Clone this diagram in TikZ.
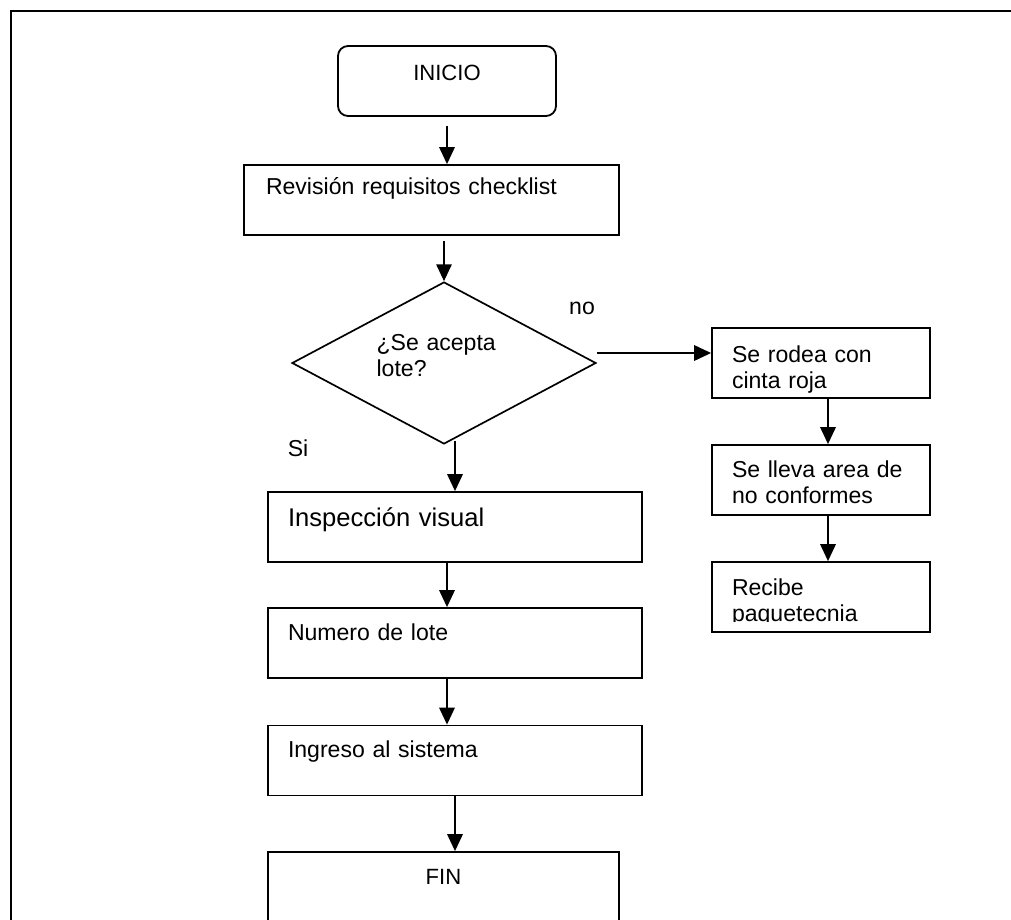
\documentclass[tikz,border=0pt]{standalone}
\usepackage{fontspec}
\setmainfont{Liberation Sans}
\usepackage{trimclip}
\usetikzlibrary{arrows.meta,shapes.geometric}
\tikzset{
	stepbox/.style={draw, line width=1.3pt, inner xsep=0.5cm, inner ysep=0pt, align=left, text height=0.8cm, text depth=0.95cm, font=\fontsize{16.4}{18.5}\selectfont},
	mainbox/.style={stepbox, text width=8.35cm},
	sidebox/.style={stepbox, text width=4.45cm},
	startbox/.style={draw, line width=1.3pt, rounded corners=0.25cm, minimum width=5.45cm, minimum height=1.75cm, text depth=0.4cm, font=\fontsize{15.7}{18}\selectfont},
	decision/.style={diamond, draw, line width=1.2pt, aspect=2, inner sep=0pt, minimum width=7.6cm, minimum height=4.05cm, text width=3.37cm, align=left, text height=0.5cm, text depth=1.15cm, font=\fontsize{16.4}{18.5}\selectfont},
	flow/.style={line width=1.1pt, -{Triangle[length=12pt,width=11pt]}}
}

\begin{document}
\begin{tikzpicture}
	%%%%% START %%%%%
	\useasboundingbox (0,0) rectangle (25.275,-23);
	
	% frame
	\draw[line width=1.4pt] (0.275,-23.5) -- (0.275,-0.275) -- (25.5,-0.275);
	
	% main column
	\node[startbox] (ini) at (11.175,-2.025) {INICIO};
	\node[mainbox, inner xsep=0.55cm, text width=8.275cm, text height=0.725cm, text depth=1.025cm] (rev) at (10.7875,-5.0) {Revisión requisitos checklist};
	\node[decision] (dec) at (11.1,-9.075) {¿Se acepta\\lote?};
	\node[mainbox, text height=0.85cm, text depth=0.9cm, font=\fontsize{18.2}{21}\selectfont] (insp) at (11.375,-13.175) {Inspección visual};
	\node[mainbox] (num) at (11.375,-16.075) {Numero de lote};
	\node[mainbox] (ingr) at (11.375,-19.0125) {Ingreso al sistema};
	\node[stepbox, text width=7.775cm, align=center, font=\fontsize{15.7}{18}\selectfont] (fin) at (11.0875,-22.175) {FIN};
	
	% right column
	\node[sidebox, text height=0.85cm, text depth=0.9cm] (rodea) at (20.525,-9.075) {Se rodea con\\cinta roja};
	\node[sidebox] (lleva) at (20.525,-12.0) {Se lleva area de\\no conformes};
	\node[sidebox, text height=0.825cm, text depth=0.925cm] (recibe) at (20.525,-14.925) {Recibe\\\clipbox{0pt 3.6pt 0pt 0pt}{paquetecnia}};
	
	\node[font=\fontsize{16.4}{18.5}\selectfont] (nolbl) at (14.55,-7.7) {no};
	\node[font=\fontsize{16.4}{18.5}\selectfont] (silbl) at (7.45,-11.2) {Si};
	
	% arrows
	\draw[flow] ([yshift=-0.225cm]ini.south) -- (ini.south |- rev.north);
	\draw[flow] ([yshift=-0.125cm]rev.south -| dec.north) -- (dec.north);
	\draw[flow] ([yshift=0.25cm]dec.east) -- ([yshift=0.25cm]rodea.west);
	\draw[flow] ([yshift=0.1cm]insp.north |- dec.south) -- (insp.north);
	\draw[flow] ([xshift=-0.2cm]insp.south) -- ([xshift=-0.2cm]num.north);
	\draw[flow] ([xshift=-0.2cm]num.south) -- ([xshift=-0.2cm]ingr.north);
	\draw[flow] (ingr.south) -- (ingr.south |- fin.north);
	\draw[flow] ([xshift=0.175cm]rodea.south) -- ([xshift=0.175cm]lleva.north);
	\draw[flow] ([xshift=0.175cm]lleva.south) -- ([xshift=0.175cm]recibe.north);
	
	%%%%% END %%%%%
\end{tikzpicture}
\end{document}
